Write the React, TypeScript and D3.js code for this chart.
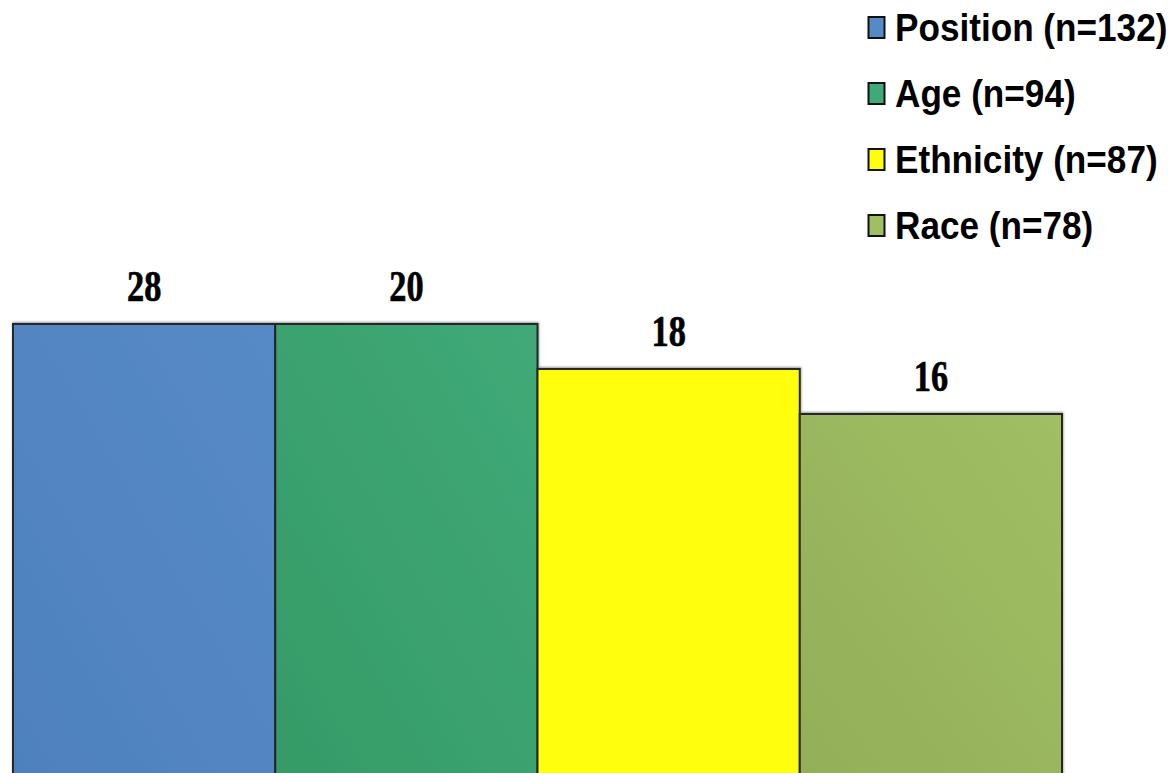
import React from "react";
import * as d3 from "d3";

// Categories and their values (%), plus the sample sizes shown in the legend
const categories = ["Position", "Age", "Ethnicity", "Race"];
const values = [28, 20, 18, 16];
const sampleSizes = [132, 94, 87, 78];
const legendLabels = categories.map((c, i) => `${c} (n=${sampleSizes[i]})`);

// Fill colours: [top-right, bottom-left] of each bar's soft gradient
const colorsLight = ["#568ac7", "#40a977", "#ffff0c", "#a0bf64"];
const colorsDark = ["#4e81be", "#359b67", "#ffff0c", "#93af58"];

const W = 1175;
const H = 773;

export default function App() {
  const x = d3.scaleBand<string>().domain(categories).range([13, 1062]).padding(0);
  // axis tops out at 20; larger values are clamped to the plot top
  const y = d3.scaleLinear().domain([0, 20]).range([774, 324]).clamp(true);

  return (
    <svg
      width={W}
      height={H}
      style={{ position: "absolute", left: 0, top: 0, background: "#fff" }}
    >
      <defs>
        {categories.map((c, i) => (
          <linearGradient key={c} id={`g${i}`} x1="0" y1="1" x2="1" y2="0">
            <stop offset="0%" stopColor={colorsDark[i]} />
            <stop offset="100%" stopColor={colorsLight[i]} />
          </linearGradient>
        ))}
        <filter id="shadow" x="-5%" y="-5%" width="110%" height="110%">
          <feDropShadow dx="0.5" dy="-1" stdDeviation="1.3" floodColor="#000" floodOpacity="0.4" />
        </filter>
      </defs>

      {/* bars */}
      <g filter="url(#shadow)">
        {categories.map((c, i) => (
          <rect
            key={c}
            x={x(c)!}
            y={y(values[i])}
            width={x.bandwidth()}
            height={y(0) - y(values[i])}
            fill={`url(#g${i})`}
            stroke="#262626"
            strokeWidth={2}
          />
        ))}
      </g>

      {/* value labels */}
      {categories.map((c, i) => {
        const cx = x(c)! + x.bandwidth() / 2;
        const by = y(values[i]) - 23;
        return (
          <text
            key={c}
            transform={`translate(${cx},${by}) scale(0.78,1)`}
            textAnchor="middle"
            fontFamily="'Liberation Serif', 'Times New Roman', serif"
            fontWeight="bold"
            fontSize={44}
            fill="#000"
            stroke="#000"
            strokeWidth={0.7}
          >
            {values[i]}
          </text>
        );
      })}

      {/* legend */}
      {legendLabels.map((label, i) => {
        const top = 17 + i * 66;
        return (
          <g key={label}>
            <rect
              x={868.5}
              y={top}
              width={16}
              height={21}
              fill={colorsLight[i]}
              stroke="#111"
              strokeWidth={2}
            />
            <text
              transform={`translate(895,${top + 24}) scale(0.925,1)`}
              fontFamily="'Liberation Sans', Arial, sans-serif"
              fontWeight="bold"
              fontSize={38}
              fill="#000"
            >
              {label}
            </text>
          </g>
        );
      })}
    </svg>
  );
}
